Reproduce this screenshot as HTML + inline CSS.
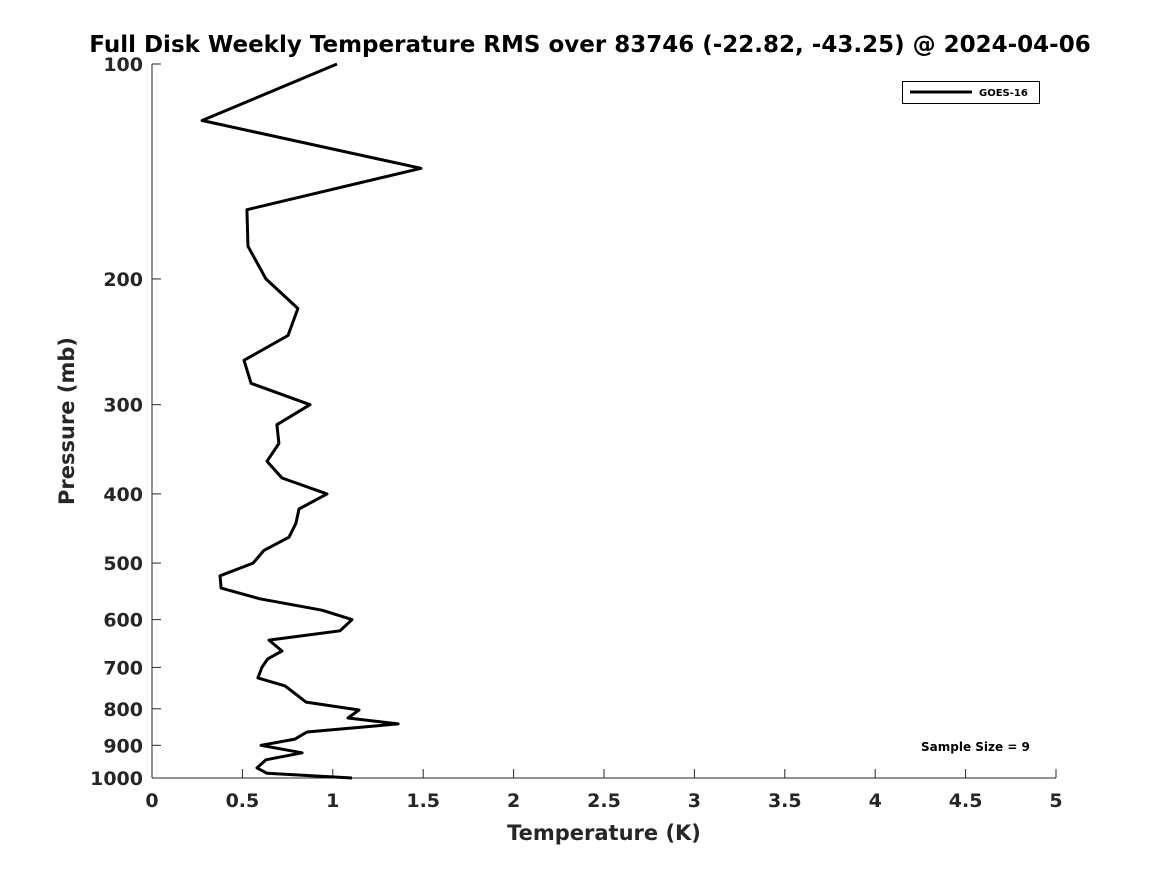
<!DOCTYPE html>
<html><head><meta charset="utf-8"><style>
body{margin:0;background:#fff;}
svg{display:block;font-family:"DejaVu Sans","Liberation Sans",sans-serif;font-weight:bold;}
</style></head><body>
<svg id="chart" width="1167" height="875" viewBox="0 0 1167 875">
<text x="590" y="52" font-size="23" text-anchor="middle" fill="#000">Full Disk Weekly Temperature RMS over 83746 (-22.82, -43.25) @ 2024-04-06</text>
<g id="axes"></g>
<path id="series" fill="none" stroke="#000" stroke-width="3" stroke-linejoin="round"></path>
<g>
<rect x="902.5" y="81.5" width="137" height="22" fill="#fff" stroke="#000" stroke-width="1"/>
<line x1="910" y1="92" x2="972" y2="92" stroke="#000" stroke-width="3"/>
<text x="979" y="96" font-size="10" fill="#000">GOES-16</text>
</g>
<text x="921" y="751" font-size="12" fill="#000">Sample Size = 9</text>
<text x="604" y="840" font-size="21" text-anchor="middle" fill="#262626">Temperature (K)</text>
<text transform="translate(74,421) rotate(-90)" font-size="21" text-anchor="middle" fill="#262626">Pressure (mb)</text>
</svg>
<script>
const pressures=[100,120,140,160,180,200,220,240,260,280,300,320,340,360,380,400,420,440,460,480,500,521,542,561,582,600,622,641,664,681,700,724,743,783,803,824,840,862,882,900,922,943,968,985,1000];
const rmsValues=[1.023,0.277,1.488,0.525,0.531,0.63,0.807,0.752,0.509,0.548,0.874,0.691,0.702,0.636,0.719,0.968,0.813,0.796,0.758,0.619,0.559,0.376,0.382,0.597,0.940,1.106,1.040,0.647,0.719,0.64,0.608,0.586,0.736,0.852,1.145,1.084,1.361,0.857,0.791,0.603,0.83,0.63,0.581,0.636,1.106];
const xTicks=[0,0.5,1,1.5,2,2.5,3,3.5,4,4.5,5];
const xTickLabels=["0","0.5","1","1.5","2","2.5","3","3.5","4","4.5","5"];
const yTicks=[100,200,300,400,500,600,700,800,900,1000];
const yTickLabels=["100","200","300","400","500","600","700","800","900","1000"];
const L=152,R=1056,T=64,B=778;
const x=v=>L+(v-0)/(5-0)*(R-L);
const y=p=>T+(Math.log10(p)-2)/(3-2)*(B-T);
const ns="http://www.w3.org/2000/svg";
const ax=document.getElementById('axes');
function mk(tag,attrs,txt){const e=document.createElementNS(ns,tag);for(const k in attrs)e.setAttribute(k,attrs[k]);if(txt!==undefined)e.textContent=txt;ax.appendChild(e);return e;}
let e=mk('line',{x1:L,y1:T,x2:L,y2:B,stroke:'#262626','stroke-width':1});


e=mk('line',{x1:L,y1:B,x2:R,y2:B,stroke:'#262626','stroke-width':1});


xTicks.forEach((v,i)=>{
  const t=mk('line',{x1:x(v),y1:B,x2:x(v),y2:B-9,stroke:'#262626','stroke-width':1});
  
  
  const l=mk('text',{x:x(v),y:B+29,'font-size':19,'text-anchor':'middle',fill:'#262626'},xTickLabels[i]);
  
  
});
yTicks.forEach((p,i)=>{
  const t=mk('line',{x1:L,y1:y(p),x2:L+9,y2:y(p),stroke:'#262626','stroke-width':1});
  
  
  const l=mk('text',{x:L-9,y:y(p)+7,'font-size':19,'text-anchor':'end',fill:'#262626'},yTickLabels[i]);
  
  
});
document.getElementById('series').setAttribute('d',pressures.map((p,i)=>(i?'L':'M')+x(rmsValues[i]).toFixed(1)+' '+y(p).toFixed(1)).join(' '));
</script>
</body></html>
